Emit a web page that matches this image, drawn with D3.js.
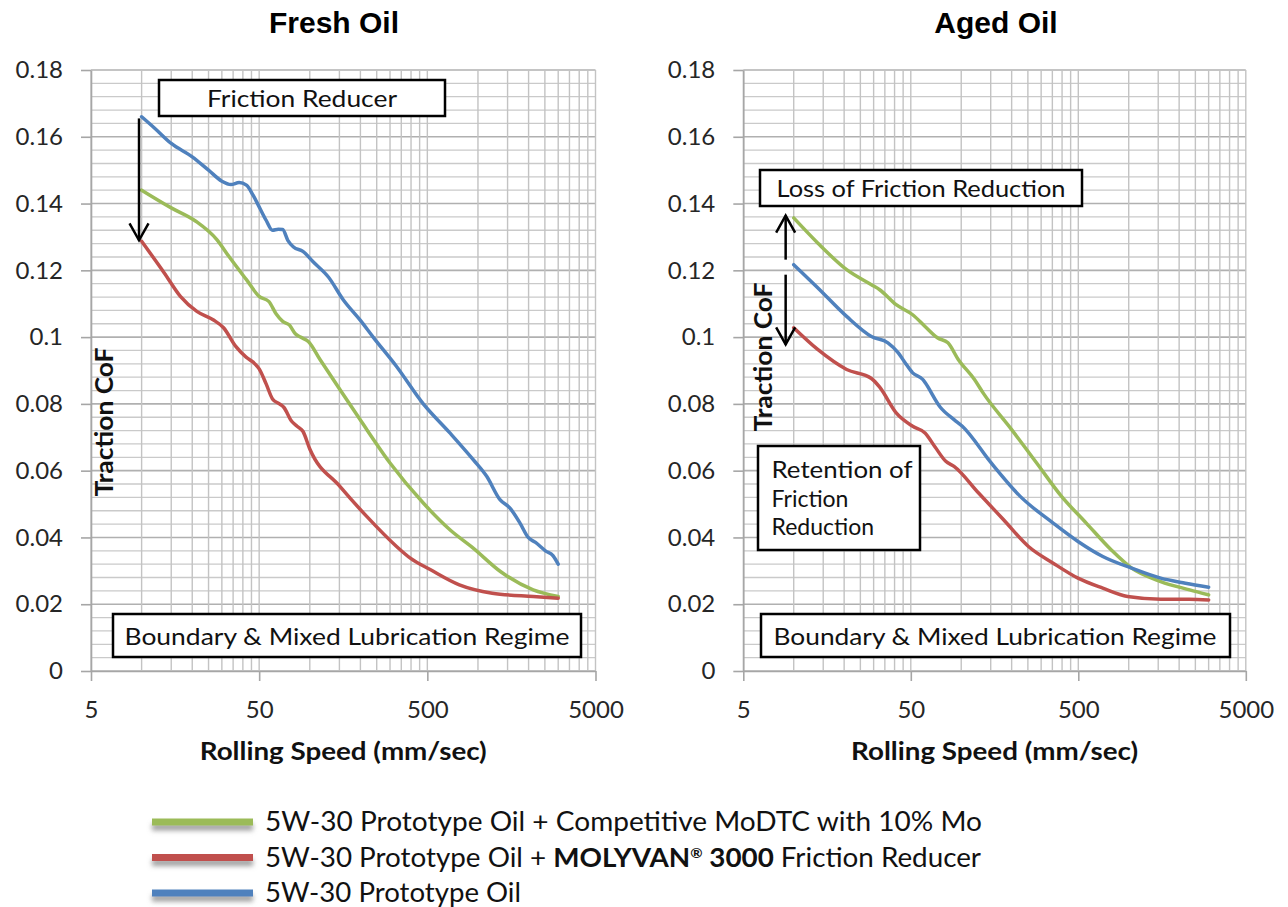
<!DOCTYPE html>
<html>
<head>
<meta charset="utf-8">
<script src="https://cdn.jsdelivr.net/npm/d3@7"></script>
<style>
body { margin: 0; background: #fff; }
svg { display: block; }
</style>
</head>
<body>
<script>
// values: [rolling speed (mm/s), traction CoF]
const freshGreen = [[10,0.144],[15,0.1387],[21,0.1347],[28,0.1292],[33,0.1242],[42,0.1172],[50,0.1122],[57,0.1107],[63,0.107],[69,0.1047],[76,0.1035],[82,0.101],[88,0.1],[98,0.0987],[115,0.0933],[151,0.0843],[199,0.0753],[300,0.0623],[473,0.0503],[681,0.0423],[937,0.0368],[1360,0.0298],[2130,0.0243],[3000,0.0223]]
const freshRed = [[10,0.1287],[13.6,0.1193],[17,0.1122],[21.3,0.1077],[26.6,0.1052],[30.7,0.1028],[36.3,0.0972],[41.8,0.094],[46,0.0925],[50,0.0905],[55,0.086],[60,0.0815],[66,0.08],[70,0.079],[78,0.0748],[84,0.0733],[91,0.0718],[100,0.0665],[151,0.0553],[218,0.0463],[328,0.0373],[396,0.0338],[523,0.0303],[775,0.0258],[1216,0.0233],[2130,0.0223],[3000,0.0218]]
const freshBlue = [[10,0.166],[12,0.1625],[15,0.158],[20,0.154],[25,0.15],[30,0.1467],[34,0.1457],[38,0.1463],[42,0.1455],[46,0.1425],[50,0.139],[55,0.135],[60,0.132],[65,0.1323],[69,0.1322],[74,0.129],[80,0.127],[91,0.1257],[105,0.1225],[129,0.118],[158,0.1112],[200,0.105],[238,0.1],[328,0.0912],[473,0.08],[681,0.0713],[937,0.0633],[1127,0.0583],[1352,0.0513],[1550,0.0488],[1778,0.0443],[1990,0.04],[2200,0.0385],[2520,0.036],[2800,0.0345],[3000,0.032]]

const agedGreen = [[10,0.1357],[13.9,0.1282],[20.7,0.1202],[29.1,0.1157],[32.6,0.1142],[40.9,0.1097],[51.3,0.1067],[60.8,0.1032],[72.1,0.0998],[83.3,0.0983],[96,0.0933],[120,0.0873],[135,0.0833],[200,0.0723],[282,0.0623],[397,0.0523],[558,0.0443],[785,0.0363],[1041,0.0308],[1552,0.0268],[2310,0.0243],[3000,0.0228]]
const agedRed = [[10,0.1028],[13.9,0.0963],[20.7,0.0903],[29.1,0.0876],[32.6,0.085],[40.9,0.0773],[51.3,0.0733],[60.8,0.0713],[70,0.067],[80.9,0.0628],[90.6,0.0613],[127,0.0533],[179,0.0453],[252,0.0373],[354,0.0323],[498,0.0278],[700,0.0248],[984,0.0223],[1552,0.0215],[2300,0.0215],[3000,0.0213]]
const agedBlue = [[10,0.1217],[13.9,0.1148],[20.7,0.1062],[29.1,0.1002],[36.5,0.0983],[42.1,0.0953],[46,0.0925],[51.3,0.0893],[59,0.0873],[61,0.0863],[75,0.079],[90.6,0.0753],[101.5,0.0733],[151,0.0623],[225,0.0523],[354,0.0443],[498,0.0388],[700,0.0343],[1041,0.0308],[1552,0.0278],[2180,0.0263],[3000,0.0251]]

const xTicks = [5, 50, 500, 5000]
const yTicks = [0, 0.02, 0.04, 0.06, 0.08, 0.1, 0.12, 0.14, 0.16, 0.18]
const panelTitles = ['Fresh Oil', 'Aged Oil']
const seriesColors = ['#9bbb59', '#c0504d', '#4f81bd']

var width = 1288
var height = 907
var plotTop = 70, plotBottom = 671

var svg = d3.select('body').append('svg').attr('width', width).attr('height', height)
svg.append('rect').attr('width', width).attr('height', height).attr('fill', '#fff')

var defs = svg.append('defs')
defs.append('filter').attr('id', 'shadow').attr('filterUnits', 'userSpaceOnUse')
    .attr('x', 130).attr('y', 790).attr('width', 150).attr('height', 120)
    .append('feDropShadow').attr('dx', 0).attr('dy', 5).attr('stdDeviation', 2.4).attr('flood-color', '#777').attr('flood-opacity', 0.7)

// minor grid: every 5, 10, 15 ... in each decade, every 0.004 on y
var xGrid = []
;[5, 50, 500].forEach(d => { for (let k = 1; k < 10; k++) xGrid.push(d * k) })
xGrid.push(5000)
var yGrid = d3.range(0, 45.5, 1).map(i => i * 0.004)

const box = (g, x, y, w, h, lines, opts) => {
    g.append('rect').attr('x', x).attr('y', y).attr('width', w).attr('height', h)
        .attr('fill', '#fff').attr('stroke', '#000').attr('stroke-width', 2.5)
    lines.forEach((l, i) => {
        var t = g.append('text').attr('x', opts.tx).attr('y', opts.ty + i * 28.5).attr('dy', '0.35em')
            .attr('text-anchor', opts.anchor || 'middle')
            .style('font-family', 'Lato').style('font-size', '23px').attr('fill', '#111').text(l)
        if (opts.len[i]) t.attr('textLength', opts.len[i]).attr('lengthAdjust', 'spacingAndGlyphs')
    })
}

const arrow = (g, x, y0, y1) => {
    var dir = y1 > y0 ? -1 : 1
    g.append('line').attr('x1', x).attr('x2', x).attr('y1', y0).attr('y2', y1).attr('stroke', '#000').attr('stroke-width', 2.5)
    g.append('path').attr('d', `M${x - 9.5},${y1 + dir * 17}L${x},${y1}L${x + 9.5},${y1 + dir * 17}`)
        .attr('fill', 'none').attr('stroke', '#000').attr('stroke-width', 2.5)
}

const drawPanel = (p) => {
    var g = svg.append('g')
    var xScale = d3.scaleLog().domain([5, 5000]).range([p.left, p.right])
    var yScale = d3.scaleLinear().domain([0, 0.18]).range([plotBottom, plotTop])

    g.selectAll('.hg').data(yGrid).enter().append('line')
        .attr('x1', p.left).attr('x2', p.right).attr('y1', d => yScale(d)).attr('y2', d => yScale(d))
        .attr('stroke', (d, i) => i % 5 == 0 ? '#b0b0b0' : '#cacaca').attr('stroke-width', (d, i) => i % 5 == 0 ? 1.6 : 1.3)
    g.selectAll('.vg').data(xGrid).enter().append('line')
        .attr('y1', plotTop).attr('y2', plotBottom).attr('x1', d => xScale(d)).attr('x2', d => xScale(d))
        .attr('stroke', '#c3c3c3').attr('stroke-width', 1.4)

    var yAxis = d3.axisLeft(yScale).tickValues(yTicks).tickSize(10).tickSizeOuter(0).tickPadding(18).tickFormat(d => String(+d.toFixed(2)))
    var xAxis = d3.axisBottom(xScale).tickValues(xTicks).tickSize(10).tickSizeOuter(0).tickPadding(20).tickFormat(d3.format('d'))
    var ya = g.append('g').attr('transform', `translate(${p.left},0)`).call(yAxis)
    var xa = g.append('g').attr('transform', `translate(0,${plotBottom})`).call(xAxis)
    ;[ya, xa].forEach(a => {
        a.selectAll('path,line').attr('stroke', '#a6a6a6').attr('stroke-width', 1.6)
        a.selectAll('text').style('font-family', 'Lato').style('font-size', '24px').attr('fill', '#262626')
    })

    svg.append('text').attr('x', p.titleX).attr('y', 33).attr('text-anchor', 'middle')
        .style('font-family', 'Liberation Sans').style('font-weight', 'bold').style('font-size', '30px').text(p.title)
    svg.append('text').attr('x', (p.left + p.right) / 2).attr('y', 760).attr('text-anchor', 'middle')
        .attr('textLength', 287).attr('lengthAdjust', 'spacingAndGlyphs')
        .style('font-family', 'Lato').style('font-weight', 'bold').style('font-size', '25px').attr('fill', '#111')
        .text('Rolling Speed (mm/sec)')

    var line = d3.line().x(d => xScale(d[0])).y(d => yScale(d[1])).curve(d3.curveMonotoneX)
    g.selectAll('.series').data(p.series).enter().append('path')
        .attr('d', line).attr('fill', 'none').attr('stroke', (d, i) => seriesColors[i])
        .attr('stroke-width', 3.5).attr('stroke-linejoin', 'round').attr('stroke-linecap', 'round')

    g.append('text').attr('transform', `translate(${p.cof[0]},${p.cof[1]}) rotate(-90)`).attr('dy', '0.35em')
        .attr('text-anchor', 'middle').attr('textLength', 149).attr('lengthAdjust', 'spacingAndGlyphs')
        .style('font-family', 'Lato').style('font-weight', 'bold').style('font-size', '25px')
        .attr('fill', '#111').text('Traction CoF')

    return { g: g, x: xScale, y: yScale }
}

var fresh = drawPanel({ title: panelTitles[0], titleX: 334, left: 91, right: 595.5, series: [freshGreen, freshRed, freshBlue], cof: [104, 422] })
var aged = drawPanel({ title: panelTitles[1], titleX: 996, left: 743.3, right: 1245.8, series: [agedGreen, agedRed, agedBlue], cof: [763, 357] })

// annotations, fresh oil
arrow(fresh.g, fresh.x(9.65), fresh.y(0.1655), fresh.y(0.129))
box(fresh.g, 159, 80, 286, 36, ['Friction Reducer'], { tx: 302, ty: 98.5, len: [190] })
box(fresh.g, 113, 614, 468, 43, ['Boundary & Mixed Lubrication Regime'], { tx: 347, ty: 636.5, len: [445] })

// annotations, aged oil
arrow(aged.g, aged.x(8.95), aged.y(0.1232), aged.y(0.1364))
arrow(aged.g, aged.x(8.95), aged.y(0.1187), aged.y(0.0978))
box(aged.g, 760, 170, 322, 36, ['Loss of Friction Reduction'], { tx: 921, ty: 188.5, len: [289] })
box(aged.g, 758, 446, 162, 104, ['Retention of', 'Friction', 'Reduction'], { tx: 771.5, ty: 470, anchor: 'start', len: [141, null, null] })
box(aged.g, 761, 614, 469, 43, ['Boundary & Mixed Lubrication Regime'], { tx: 995, ty: 636.5, len: [443] })

// legend
var legendRows = [0, 1, 2]
var legendLen = [717, 716, 256]
var lg = svg.append('g')
legendRows.forEach(i => {
    var yy = 822 + i * 35.5
    lg.append('rect').attr('x', 152).attr('y', yy - 3.5).attr('width', 101).attr('height', 7)
        .attr('fill', seriesColors[i]).attr('filter', 'url(#shadow)')
    var t = lg.append('text').attr('x', 265).attr('y', yy).attr('dy', '0.36em').attr('textLength', legendLen[i])
        .attr('lengthAdjust', 'spacingAndGlyphs')
        .style('font-family', 'Lato').style('font-size', '26px').attr('fill', '#111')
    if (i == 0) t.text('5W-30 Prototype Oil + Competitive MoDTC with 10% Mo')
    if (i == 2) t.text('5W-30 Prototype Oil')
    if (i == 1) {
        t.append('tspan').text('5W-30 Prototype Oil + ')
        t.append('tspan').style('font-weight', 'bold').text('MOLYVAN')
        t.append('tspan').style('font-weight', 'bold').style('font-size', '14px').attr('dy', -9).text('®')
        t.append('tspan').style('font-weight', 'bold').attr('dy', 9).text(' 3000')
        t.append('tspan').text(' Friction Reducer')
    }
})
</script>
</body>
</html>
